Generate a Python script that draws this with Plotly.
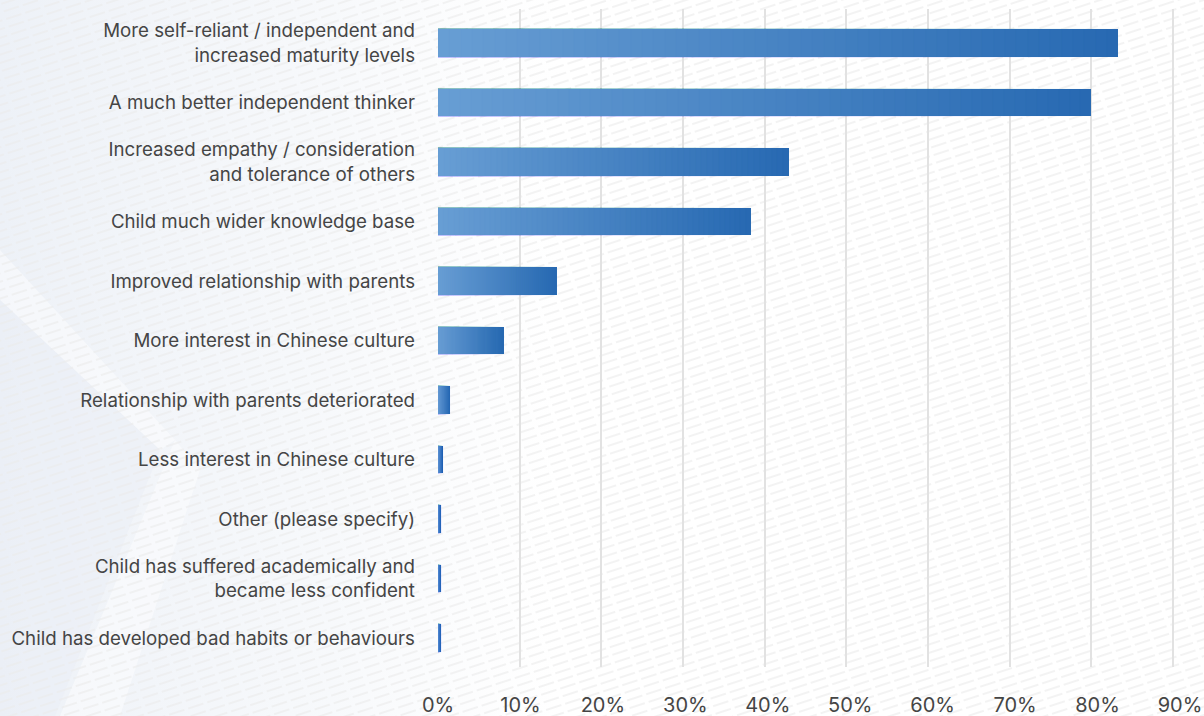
import base64
import plotly.graph_objects as go

# ---- data -----------------------------------------------------------------
categories = [
    "More self-reliant / independent and<br>increased maturity levels",
    "A much better independent thinker",
    "Increased empathy / consideration<br>and tolerance of others",
    "Child much wider knowledge base",
    "Improved relationship with parents",
    "More interest in Chinese culture",
    "Relationship with parents deteriorated",
    "Less interest in Chinese culture",
    "Other (please specify)",
    "Child has suffered academically and<br>became less confident",
    "Child has developed bad habits or behaviours",
]
values = [83.3, 80.0, 43.0, 38.3, 14.6, 8.1, 1.5, 0.6, 0.4, 0.4, 0.4]
tick_values = [0, 10, 20, 30, 40, 50, 60, 70, 80, 90]
tick_labels = ["0%", "10%", "20%", "30%", "40%", "50%", "60%", "70%", "80%", "90%"]

# ---- canvas ---------------------------------------------------------------
W, H = 1204, 716
ML, MR, MT, MB = 438, 10, 9, 49
PW, PH = W - ML - MR, H - MT - MB
PX_PER_UNIT = 8.167        # bar / grid scale
LABEL_PX_PER_UNIT = 8.244  # tick label scale

FONT = "Inter, Roboto, sans-serif"
TEXT = "#454545"

# gradient end points for each bar (left -> right)
C_LEFT = (104, 158, 212)
C_RIGHT = (39, 105, 178)


def mix(t):
    r = [round(a + (b - a) * t) for a, b in zip(C_LEFT, C_RIGHT)]
    return "rgb({},{},{})".format(*r)


# background: soft tint on the left, hatched diagonal strokes everywhere
svg = f"""<svg xmlns='http://www.w3.org/2000/svg' width='{W}' height='{H}' viewBox='0 0 {W} {H}'>
<defs>
<linearGradient id='fade' x1='0' y1='0' x2='1' y2='0'>
<stop offset='0' stop-color='#edf1f7' stop-opacity='1'/>
<stop offset='0.6' stop-color='#f2f5f9' stop-opacity='0.6'/>
<stop offset='1' stop-color='#f6f8fb' stop-opacity='0'/>
</linearGradient>
<pattern id='hatch' width='20' height='8' patternUnits='userSpaceOnUse' patternTransform='rotate(-18)'>
<line x1='0' y1='4' x2='16' y2='4' stroke='#ebebeb' stroke-width='1.2'/>
</pattern>
</defs>
<rect width='{W}' height='{H}' fill='#ffffff'/>
<rect x='0' y='0' width='560' height='{H}' fill='url(#fade)'/>
<polygon points='0,250 0,300 160,450 175,440' fill='#ffffff' opacity='0.45'/>
<polygon points='175,440 60,{H} 120,{H} 200,470' fill='#ffffff' opacity='0.45'/>
<polygon points='0,300 160,450 55,{H} 0,{H}' fill='#e9eef5' opacity='0.5'/>
<rect width='{W}' height='{H}' fill='url(#hatch)'/>
</svg>"""
bg_src = "data:image/svg+xml;base64," + base64.b64encode(svg.encode()).decode()

fig = go.Figure()

# each bar is a stack of overlaid, progressively shorter copies so the
# colour runs light -> dark along the bar's own length
N = 60
for k in range(N):
    frac = (N - k) / N
    col = mix((N - k - 0.5) / N)
    fig.add_trace(go.Bar(
        x=[v * frac for v in values],
        y=categories,
        orientation="h",
        width=0.46,
        marker=dict(color=col, line=dict(width=0.02, color=col)),
        hoverinfo="skip" if k else "x+y",
        showlegend=False,
    ))

# carrier trace for the percentage labels axis
fig.add_trace(go.Scatter(
    x=[0], y=[categories[0]], xaxis="x2", mode="markers",
    marker=dict(opacity=0), hoverinfo="skip", showlegend=False,
))

fig.update_layout(
    width=W, height=H,
    margin=dict(l=ML, r=MR, t=MT, b=MB, pad=0, autoexpand=False),
    barmode="overlay", bargap=0, bargroupgap=0,
    paper_bgcolor="#ffffff",
    plot_bgcolor="rgba(0,0,0,0)",
    font=dict(family=FONT, color=TEXT),
    xaxis=dict(
        range=[0, PW / PX_PER_UNIT],
        tickvals=tick_values,
        showticklabels=False, automargin=False,
        showgrid=True, gridcolor="#e2e2e2", gridwidth=1.6,
        zeroline=False, showline=False, fixedrange=True,
    ),
    xaxis2=dict(
        overlaying="x", anchor="y", side="bottom",
        range=[0, PW / LABEL_PX_PER_UNIT], automargin=False,
        tickvals=tick_values, ticktext=tick_labels,
        showgrid=False, zeroline=False, showline=False,
        ticks="", ticklabelstandoff=24,
        tickfont=dict(family=FONT, size=20, color=TEXT),
    ),
    yaxis=dict(
        type="category", automargin=False,
        categoryorder="array", categoryarray=categories,
        range=[10.487, -0.571],
        showgrid=False, zeroline=False, showline=False,
        ticks="", ticklabelstandoff=22,
        tickfont=dict(family=FONT, size=18.7, color=TEXT),
    ),
    images=[dict(
        source=bg_src, xref="paper", yref="paper",
        x=-ML / PW, y=1 + MT / PH, sizex=W / PW, sizey=H / PH,
        xanchor="left", yanchor="top", sizing="stretch", layer="below",
    )],
)

fig.write_html("out.html")
